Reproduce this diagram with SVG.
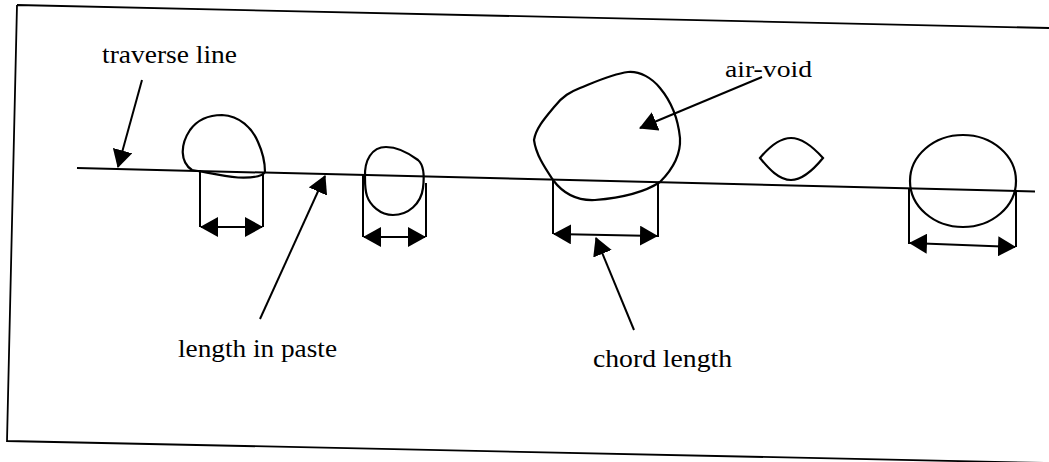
<svg xmlns="http://www.w3.org/2000/svg" width="1049" height="462" viewBox="0 0 1049 462">
  <style>
    .frame{fill:none;stroke:#000;stroke-width:1.8}
    .void{fill:none;stroke:#000;stroke-width:2.2}
    .ln{fill:none;stroke:#000;stroke-width:2}
    .dim{fill:none;stroke:#000;stroke-width:2}
    .lbl{font-family:"Liberation Serif","Times New Roman",serif;fill:#000}
  </style>
  <defs>
    <marker id="ah" viewBox="0 0 18 20" refX="17" refY="10" markerWidth="18" markerHeight="20" markerUnits="userSpaceOnUse" orient="auto-start-reverse">
      <path d="M0,0 L18,10 L0,20 Z" fill="#000"/>
    </marker>
  </defs>
  <rect width="1049" height="462" fill="#fff"/>

  <g id="frame">
    <path class="frame" d="M17,5 L1049,28 M17,5 L7,441 L1049,463"/>
  </g>

  <g id="traverse-line">
    <line class="ln" x1="77" y1="168" x2="1035" y2="191.5"/>
  </g>

  <g id="void1">
    <path class="void" d="M192,170 C180,162 180,145 190,130 C198,119 210,115 222,115 C240,116 252,128 258,142 C263,153 265,163 265,172 C262,177 250,178 238,177.5 C222,176 205,172 192,170 Z"/>
  </g>
  <g id="void2">
    <path class="void" d="M365,178 C364,160 372,147 386,147 C398,147 410,154 418,160 C425,166 424,180 423,188 C421,204 408,215 393,215 C380,215 370,205 367,196 C365,190 365,184 365,178 Z"/>
  </g>
  <g id="void3">
    <path class="void" d="M553,180 C545,168 536,155 534,140 C536,128 545,118 555,106 C563,96 570,92 580,88 C595,82 612,74 628,72 C640,71 652,78 660,88 C670,100 678,118 680,138 C681,155 672,170 660,182 C645,192 620,198 595,200 C575,201 562,192 553,180 Z"/>
  </g>
  <g id="void4">
    <path class="void" d="M760,158 C770,146 780,138 791,138 C803,138 814,148 823,158 C814,169 803,180 791,180 C779,180 769,169 760,158 Z"/>
  </g>
  <g id="void5">
    <ellipse class="void" cx="963" cy="181" rx="53" ry="46"/>
  </g>

  <g id="label-traverse">
    <text class="lbl" x="102" y="63" font-size="25" textLength="135" lengthAdjust="spacingAndGlyphs">traverse line</text>
  </g>
  <g id="label-airvoid">
    <text class="lbl" x="725" y="77" font-size="24" textLength="87" lengthAdjust="spacingAndGlyphs">air-void</text>
  </g>
  <g id="label-paste">
    <text class="lbl" x="178" y="357" font-size="26" textLength="159" lengthAdjust="spacingAndGlyphs">length in paste</text>
  </g>
  <g id="label-chord">
    <text class="lbl" x="593" y="367" font-size="25" textLength="139" lengthAdjust="spacingAndGlyphs">chord length</text>
  </g>

  <g id="connectors">
    <path class="dim" d="M200,170 L200,227 M263,172 L263,227"/>
    <path class="dim" d="M363,175 L363,237 M426,183 L426,237"/>
    <path class="dim" d="M553,180 L553,234 M658,182 L658,237"/>
    <path class="dim" d="M909,189 L909,244 M1016,191 L1016,247"/>
    <line class="dim" x1="201" y1="227" x2="262" y2="227" marker-start="url(#ah)" marker-end="url(#ah)"/>
    <line class="dim" x1="364" y1="237" x2="425" y2="237" marker-start="url(#ah)" marker-end="url(#ah)"/>
    <line class="dim" x1="554" y1="234" x2="657" y2="236" marker-start="url(#ah)" marker-end="url(#ah)"/>
    <line class="dim" x1="910" y1="243" x2="1015" y2="247" marker-start="url(#ah)" marker-end="url(#ah)"/>
    <line class="ln" x1="142" y1="80" x2="118" y2="167" marker-end="url(#ah)"/>
    <line class="ln" x1="260" y1="319" x2="325" y2="176" marker-end="url(#ah)"/>
    <line class="ln" x1="762" y1="77" x2="640" y2="128" marker-end="url(#ah)"/>
    <line class="ln" x1="634" y1="330" x2="596" y2="238" marker-end="url(#ah)"/>
  </g>
</svg>
